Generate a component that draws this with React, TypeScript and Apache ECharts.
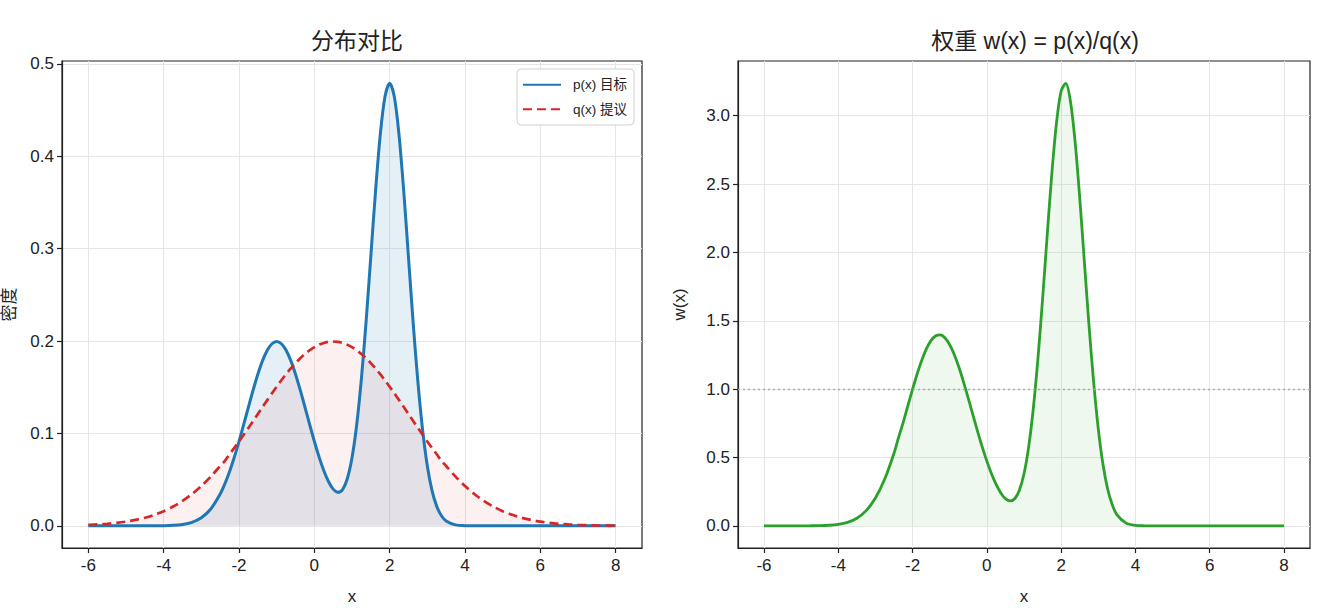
import React, { useEffect, useRef } from "react";
import * as echarts from "echarts";

const xs = [
  -6, -5.75, -5.5, -5.25, -5, -4.75, -4.5, -4.25, -4, -3.75, -3.5, -3.25, -3, -2.75,
  -2.5, -2.375, -2.25, -2.125, -2, -1.875, -1.75, -1.625, -1.5, -1.375, -1.25, -1.125,
  -1, -0.875, -0.75, -0.625, -0.5, -0.375, -0.25, -0.125, 0, 0.125, 0.25, 0.375, 0.5,
  0.625, 0.75, 0.875, 1, 1.125, 1.25, 1.375, 1.5, 1.625, 1.75, 1.875, 2, 2.125, 2.25,
  2.375, 2.5, 2.625, 2.75, 2.875, 3, 3.125, 3.25, 3.375, 3.5,
  3.75, 4, 4.25, 4.5, 4.75, 5, 5.25, 5.5, 5.75, 6, 6.25, 6.5, 6.75, 7, 7.25, 7.5, 7.75, 8,
];

const pTarget = [
  0, 0, 0, 0, 0.000001, 0.000003, 0.000014, 0.000052, 0.000176, 0.000542, 0.00151, 0.00382,
  0.008765, 0.018234,
  0.034393, 0.045547, 0.058851, 0.074211, 0.091323, 0.109677, 0.128541, 0.147003, 0.16408,
  0.178717, 0.189963, 0.19705, 0.19947, 0.19705, 0.189963, 0.178717, 0.164082, 0.147009,
  0.12856, 0.109734, 0.091484, 0.074634, 0.059898, 0.047981, 0.039711, 0.03626, 0.039269,
  0.050891, 0.073555, 0.109392, 0.15924, 0.22161, 0.291874, 0.362281, 0.423021, 0.464313,
  0.478906, 0.464097, 0.422531, 0.361392, 0.290378, 0.219184, 0.155423, 0.103536, 0.064791,
  0.038097, 0.021035, 0.010911, 0.005318,
  0.001047, 0.000161, 0.000019, 0.000002, 0, 0, 0, 0, 0, 0, 0, 0, 0, 0, 0, 0, 0, 0,
];

const qProposal = [
  0.001014, 0.00151, 0.002216, 0.003199, 0.004547, 0.006361, 0.008764, 0.011883, 0.015874,
  0.020866, 0.026995, 0.034393, 0.043139, 0.053271,
  0.064758, 0.070186, 0.077508, 0.0843, 0.091323, 0.09856, 0.105935, 0.113431, 0.120985,
  0.128541, 0.136028, 0.143387, 0.15057, 0.157488, 0.16408, 0.170284, 0.176032, 0.181266,
  0.185926, 0.189963, 0.193333, 0.195995, 0.197918, 0.199081, 0.19947, 0.199081, 0.197918,
  0.195995, 0.193333, 0.189963, 0.185926, 0.181266, 0.176032, 0.170284, 0.16408, 0.157488,
  0.15057, 0.143387, 0.136028, 0.128541, 0.120985, 0.113431, 0.105935, 0.09856, 0.091323,
  0.0843, 0.077508, 0.070186, 0.064758,
  0.053271, 0.043139, 0.034393, 0.026995, 0.020866, 0.015874, 0.011883, 0.008764, 0.006361,
  0.004547, 0.003199, 0.002216, 0.00151, 0.001014, 0.00067, 0.000436, 0.00028, 0.000176,
];

const weights = [
  0, 0, 0, 0, 0.00016, 0.00053, 0.00159, 0.0044, 0.0111, 0.026, 0.0559, 0.1111, 0.2032, 0.3423,
  0.5311, 0.6489, 0.7593, 0.8803, 1.0, 1.1128, 1.2134, 1.296, 1.3562, 1.3904, 1.3965, 1.3743,
  1.3248, 1.2512, 1.1577, 1.0495, 0.9321, 0.811, 0.6915, 0.5777, 0.4732, 0.3808, 0.3026, 0.241,
  0.1991, 0.1821, 0.1984, 0.2597, 0.3805, 0.5759, 0.8565, 1.2226, 1.6581, 2.1275, 2.5781,
  2.9482, 3.1806, 3.2367, 3.1062, 2.8115, 2.4001, 1.9323, 1.4672, 1.0505, 0.7095, 0.4519,
  0.2714, 0.1555, 0.0821,
  0.0197, 0.0037, 0.00055, 0.00007, 0, 0, 0, 0, 0, 0, 0, 0, 0, 0, 0, 0, 0, 0,
];

const xTicks = [-6, -4, -2, 0, 2, 4, 6, 8];
const densityTicks = [0, 0.1, 0.2, 0.3, 0.4, 0.5];
const weightTicks = [0, 0.5, 1, 1.5, 2, 2.5, 3];

const FONT = "'Liberation Sans', Arial, 'Noto Sans CJK SC', sans-serif";
const INK = "#222222";
const TICK_FS = 17;

function xAxisCfg(gridIndex: number) {
  return {
    type: "value",
    gridIndex,
    min: -6.7,
    max: 8.7,
    name: "x",
    nameLocation: "middle",
    nameGap: 40,
    nameTextStyle: { fontSize: TICK_FS, color: INK, fontFamily: FONT },
    axisLine: { show: true, onZero: false, lineStyle: { color: INK, width: 1.2 } },
    axisTick: { show: true, customValues: xTicks, length: 5, lineStyle: { color: INK, width: 1.2 } },
    axisLabel: {
      customValues: xTicks,
      color: INK,
      fontSize: TICK_FS,
      fontFamily: FONT,
      margin: 9,
      formatter: (v: number) => String(v),
    },
    splitLine: { show: true, lineStyle: { color: "#e6e6e6", width: 1 } },
  };
}

function yAxisCfg(gridIndex: number, min: number, max: number, ticks: number[], name: string, gap: number) {
  return {
    type: "value",
    gridIndex,
    min,
    max,
    name,
    nameLocation: "middle",
    nameGap: gap,
    nameRotate: 90,
    nameTextStyle: { fontSize: TICK_FS, color: INK, fontFamily: FONT },
    axisLine: { show: true, onZero: false, lineStyle: { color: INK, width: 1.2 } },
    axisTick: { show: true, customValues: ticks, length: 5, lineStyle: { color: INK, width: 1.2 } },
    axisLabel: {
      customValues: ticks,
      color: INK,
      fontSize: TICK_FS,
      fontFamily: FONT,
      margin: 8,
      formatter: (v: number) => v.toFixed(1),
    },
    splitLine: { show: true, lineStyle: { color: "#e6e6e6", width: 1 } },
  };
}

export default function App() {
  const ref = useRef<HTMLDivElement>(null);
  useEffect(() => {
    if (!ref.current) return;
    const chart = echarts.init(ref.current, null, { renderer: "svg" });
    const pairs = (ys: number[]) => xs.map((x, i) => [x, ys[i]]);
    chart.setOption({
      animation: false,
      backgroundColor: "#ffffff",
      textStyle: { fontFamily: FONT },
      title: [
        {
          text: "分布对比",
          left: 352,
          top: 24,
          textAlign: "center",
          textStyle: { fontSize: 23, fontWeight: "normal", color: INK, fontFamily: FONT },
        },
        {
          text: "权重 w(x) = p(x)/q(x)",
          left: 1030,
          top: 24,
          textAlign: "center",
          textStyle: { fontSize: 23, fontWeight: "normal", color: INK, fontFamily: FONT },
        },
      ],
      legend: {
        data: ["p(x) 目标", "q(x) 提议"],
        orient: "vertical",
        right: 704,
        top: 69,
        backgroundColor: "#ffffff",
        borderColor: "#d0d0d0",
        borderWidth: 1,
        borderRadius: 4,
        padding: [9, 7, 9, 5],
        itemGap: 11,
        itemWidth: 38,
        itemHeight: 10,
        itemStyle: { opacity: 0 },
        textStyle: { fontSize: 13.5, color: INK, fontFamily: FONT, padding: [0, 0, 0, 7] },
      },
      grid: [
        { left: 62, top: 61, width: 580, height: 487, show: true, outerBoundsMode: "none", containLabel: false, borderColor: INK, borderWidth: 1.2, backgroundColor: "transparent" },
        { left: 738, top: 61, width: 572, height: 487, show: true, outerBoundsMode: "none", containLabel: false, borderColor: INK, borderWidth: 1.2, backgroundColor: "transparent" },
      ],
      xAxis: [xAxisCfg(0), xAxisCfg(1)],
      yAxis: [
        yAxisCfg(0, -0.024, 0.503, densityTicks, "密度", 44),
        yAxisCfg(1, -0.162, 3.4, weightTicks, "w(x)", 50),
      ],
      series: [
        {
          name: "p(x) 目标",
          type: "line",
          xAxisIndex: 0,
          yAxisIndex: 0,
          data: pairs(pTarget),
          symbol: "none",
          showSymbol: false,
          smooth: 0.3,
          lineStyle: { color: "#1f77b4", width: 3 },
          itemStyle: { color: "#1f77b4" },
          areaStyle: { color: "rgba(31,119,180,0.17)" },
        },
        {
          name: "q(x) 提议",
          type: "line",
          xAxisIndex: 0,
          yAxisIndex: 0,
          data: pairs(qProposal),
          symbol: "none",
          showSymbol: false,
          smooth: 0.3,
          lineStyle: { color: "#d62728", width: 2.7, type: [9, 5] },
          itemStyle: { color: "#d62728" },
          areaStyle: { color: "rgba(214,39,40,0.1)" },
        },
        {
          name: "w",
          type: "line",
          xAxisIndex: 1,
          yAxisIndex: 1,
          data: pairs(weights),
          symbol: "none",
          showSymbol: false,
          smooth: 0.3,
          lineStyle: { color: "#2ca02c", width: 2.8 },
          itemStyle: { color: "#2ca02c" },
          areaStyle: { color: "rgba(44,160,44,0.11)" },
          markLine: {
            silent: true,
            symbol: "none",
            label: { show: false },
            lineStyle: { color: "#aaaaaa", width: 1.3, type: [2, 3] },
            data: [{ yAxis: 1 }],
          },
        },
      ],
    });
    return () => chart.dispose();
  }, []);
  return (
    <div
      ref={ref}
      style={{ position: "fixed", left: 0, top: 0, width: 1338, height: 616, background: "#fff" }}
    />
  );
}
